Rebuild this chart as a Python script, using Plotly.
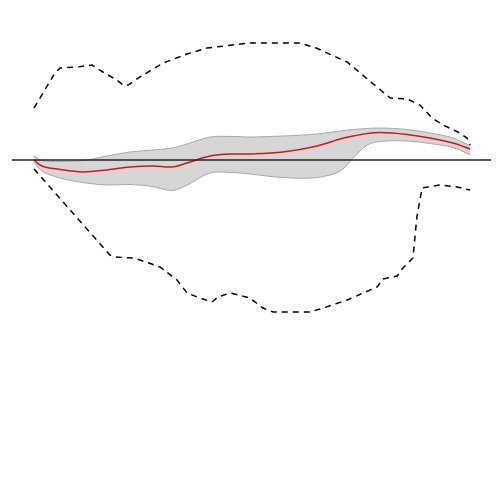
import plotly.graph_objects as go

# shared x positions for the central estimate and its band
x_mid = [0, 1.8, 6.0, 11.2, 16.7, 22.0, 27.3, 31.7, 35.1, 40.4, 45.6, 49.5,
         57.1, 64.9, 70.2, 73.2, 76.4, 79.4, 85.6, 90.8, 96.1, 100]
y_mid = [0, -0.6, -0.95, -1.2, -1.0, -0.7, -0.6, -0.7, -0.3, 0.4, 0.6, 0.6,
         0.8, 1.4, 2.1, 2.4, 2.65, 2.75, 2.55, 2.2, 1.7, 1.1]
band_hi = [0.4, -0.05, -0.15, -0.05, 0.4, 0.8, 1.0, 1.2, 1.6, 2.3, 2.35, 2.3,
           2.4, 2.6, 2.9, 3.05, 3.15, 3.2, 3.05, 2.7, 2.2, 1.4]
band_lo = [-0.2, -1.1, -1.8, -2.25, -2.5, -2.45, -2.65, -3.05, -2.5, -1.3, -1.25, -1.4,
           -1.75, -1.75, -1.1, 0.2, 1.5, 1.85, 1.9, 1.65, 1.25, 0.5]

# outer envelopes (dashed)
x_upper = [0, 4.8, 6.0, 9.9, 13.3, 15.8, 19.0, 20.4, 21.6, 24.3, 29.6, 35.1, 39.7,
           45.0, 49.5, 51.1, 60.9, 64.7, 67.9, 71.8, 74.8, 76.6, 78.9, 81.7, 85.6,
           88.5, 91.3, 93.8, 97.2, 99.3, 100]
y_upper = [5.2, 8.7, 9.2, 9.3, 9.5, 8.8, 8.0, 7.5, 7.5, 8.3, 9.7, 10.6, 11.2,
           11.5, 11.7, 11.7, 11.7, 11.2, 10.6, 9.8, 8.7, 8.0, 7.2, 6.2, 6.1,
           5.5, 4.2, 3.5, 2.8, 2.2, 1.5]
x_lower = [0, 17.4, 18.6, 22.7, 24.3, 28.9, 32.8, 35.1, 37.4, 40.8, 42.2, 45.0,
           47.7, 49.5, 52.5, 54.8, 63.3, 65.6, 71.8, 78.7, 80.0, 83.3, 84.6, 86.9,
           87.8, 89.0, 93.1, 97.0, 100]
y_lower = [-0.9, -9.5, -9.7, -9.8, -10.0, -10.7, -12.0, -13.3, -13.7, -14.2, -13.7, -13.3,
           -13.6, -13.8, -14.8, -15.2, -15.2, -14.9, -14.0, -12.7, -11.9, -11.6, -10.8, -9.8,
           -5.7, -2.8, -2.5, -2.7, -3.0]

fig = go.Figure()

fig.add_trace(go.Scatter(
    x=x_mid, y=band_lo, mode="lines", line=dict(color="#a8a8a8", width=1, shape="spline"),
    showlegend=False, hoverinfo="skip",
))
fig.add_trace(go.Scatter(
    x=x_mid, y=band_hi, mode="lines", line=dict(color="#a8a8a8", width=1, shape="spline"),
    fill="tonexty", fillcolor="#d6d6d6", showlegend=False, hoverinfo="skip",
))

fig.add_hline(y=0, line_color="#222222", line_width=1.5)

fig.add_trace(go.Scatter(
    x=x_mid, y=y_mid, mode="lines", line=dict(color="#dd1111", width=1.5, shape="spline"),
    showlegend=False,
))

for xs, ys in [(x_upper, y_upper), (x_lower, y_lower)]:
    fig.add_trace(go.Scatter(
        x=xs, y=ys, mode="lines",
        line=dict(color="black", width=1.5, dash="6px,5px"),
        showlegend=False,
    ))

# the page body adds an 8px offset, so the plot area is shifted back to compensate
fig.update_xaxes(visible=False, range=[-5.05, 104.8])
fig.update_yaxes(visible=False, range=[-34.8, 15.2])

fig.update_layout(
    width=500,
    height=500,
    margin=dict(l=4, r=17, t=0, b=0),
    paper_bgcolor="white",
    plot_bgcolor="white",
)

fig.write_html("out.html")
